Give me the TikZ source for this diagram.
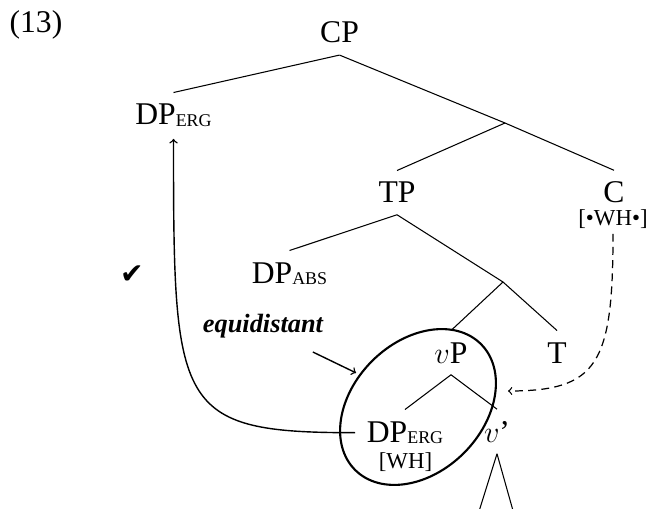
\documentclass[tikz,border=0pt]{standalone}
\usepackage{fontspec}
\setmainfont{Liberation Serif}
\newfontfamily\dingfont{DejaVu Sans}
\usepackage{tikz}
\usetikzlibrary{shapes.geometric}

\newcommand{\casemark}[1]{\raisebox{-1.1pt}{\fontsize{10.2}{10}\selectfont #1}}

\tikzset{
  cat/.style={font=\fontsize{18}{20}\selectfont, inner sep=6.5pt, anchor=base},
  featbox/.style={font=\fontsize{13}{15}\selectfont, inner sep=2.5pt, anchor=base},
  branch/.style={line width=0.6pt},
  move/.style={line width=0.8pt, ->},
}

\begin{document}
\begin{tikzpicture}[x=0.02cm, y=-0.02cm]
    \useasboundingbox (0,0) rectangle (651,509);

    % example number
    \node[cat] (exnum) at (36,33) {(13)};

    % tree labels
    \node[cat] (cp) at (339.5,43) {CP};
    \node[cat] (dphigh) at (173.5,125) {DP\casemark{ERG}};
    \node[cat] (tp) at (397,203) {TP};
    \node[cat] (c) at (614,203) {C};
    \node[featbox] (cfeat) at (613,226) {[•WH•]};
    \node[cat] (dpabs) at (289.5,283) {DP\casemark{ABS}};
    \node[cat] (vp) at (451,363) {$v$P};
    \node[cat] (t) at (557,363) {T};
    \node[cat] (dplow) at (405,442) {DP\casemark{ERG}};
    \node[featbox] (wh) at (405.5,468) {[WH]};
    \node[cat] (vbar) at (497,442) {$v$'};

    % unlabelled branching points
    \coordinate (cbar) at (505,123);
    \coordinate (tbar) at (503,282);
    \coordinate (probe) at (508,391);

    % branches
    \draw[branch] (cp.south) -- (dphigh.north);
    \draw[branch] (cp.south) -- (cbar) -- (c.north);
    \draw[branch] (cbar) -- (tp.north);
    \draw[branch] (tp.south) -- (dpabs.north);
    \draw[branch] (tp.south) -- (tbar) -- (t.north);
    \draw[branch] (tbar) -- (vp.north);
    \draw[branch] (vp.south) -- (dplow.north);
    \draw[branch] (vp.south) -- (vbar.north);
    \draw[branch] (vbar.south) -- ++(-20,64) (vbar.south) -- ++(18,64);

    % phase ring and annotations
    \node[draw, ellipse, line width=1.2pt, rotate=45, minimum width=3.56cm, minimum height=2.6cm] (ring) at (418,407) {};
    \node[font=\fontsize{15}{18}\selectfont\bfseries\itshape, inner sep=4pt, anchor=base] (equi) at (263,332) {equidistant};
    \node[font=\dingfont\fontsize{16}{16}\selectfont] (tick) at (132,275) {✔};

    % movement and probing
    \draw[move] (dplow.west) .. controls +(-180,0) and +(0,270) .. (dphigh.south);
    \draw[->, line width=0.7pt, dash pattern=on 4.5pt off 3pt] (cfeat.south) .. controls +(0,130) and +(90,0) .. (probe);
    \draw[move, shorten >=2pt] ([xshift=-10pt, yshift=-4pt]equi.south east) -- (ring.106);
\end{tikzpicture}
\end{document}
